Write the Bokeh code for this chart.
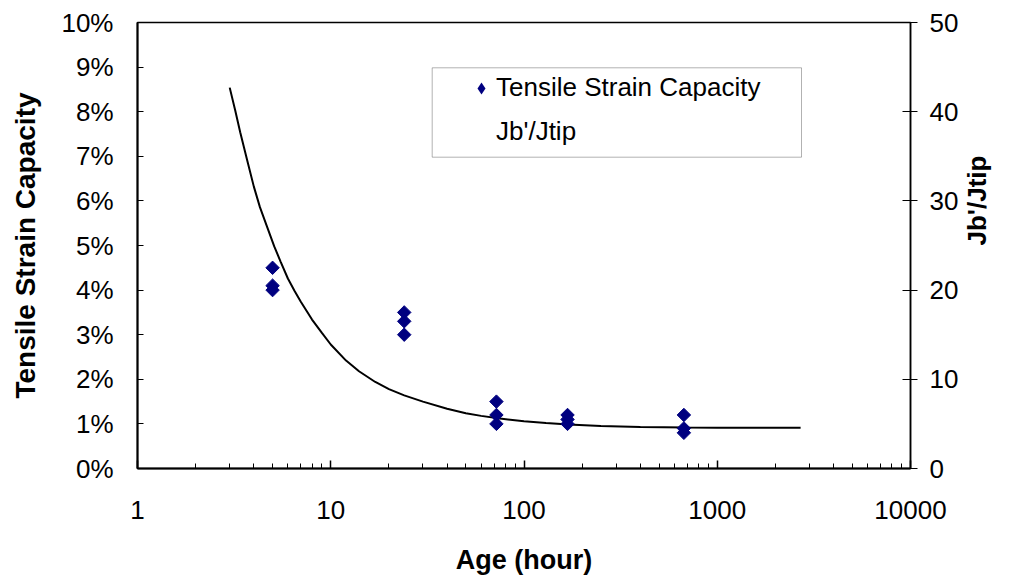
import math
from bokeh.plotting import figure
from bokeh.models import (Range1d, LinearAxis, SingleIntervalTicker, NumeralTickFormatter,
                          LogTicker, Legend, LegendItem, BoxAnnotation)
from bokeh.embed import file_html
from bokeh.resources import INLINE

# ---- data ----
age_points = [5, 5, 5, 24, 24, 24, 72, 72, 72, 168, 168, 168, 672, 672, 672]
tensile_strain = [0.045, 0.041, 0.040, 0.035, 0.033, 0.030, 0.015, 0.012, 0.010,
                  0.012, 0.011, 0.010, 0.012, 0.009, 0.008]

age_curve = [3.0, 3.2, 3.4, 3.7, 4.0, 4.3, 4.7, 5.1, 5.5, 6.0, 6.5, 7.0, 8.0, 9.0, 10,
             12, 14, 17, 20, 24, 30, 40, 50, 60, 75, 100, 130, 170, 250, 400, 700,
             1000, 1700, 2700]
jb_jtip = [42.7, 40.2, 37.7, 34.5, 31.6, 29.3, 27.0, 24.9, 23.2, 21.3, 19.9, 18.7,
           16.7, 15.2, 13.9, 12.1, 10.9, 9.7, 8.9, 8.2, 7.5, 6.7, 6.2, 5.9, 5.6, 5.3,
           5.1, 4.93, 4.77, 4.66, 4.6, 4.58, 4.57, 4.56]

x_ticks = [1, 10, 100, 1000, 10000]

FONT = "Liberation Sans"

p = figure(width=1010, height=580, x_axis_type="log",
           x_range=Range1d(1, 10000), y_range=Range1d(0, 0.10),
           output_backend="svg", toolbar_location=None,
           min_border_left=137, min_border_right=99, min_border_top=22, min_border_bottom=112)
p.extra_y_ranges = {"jb": Range1d(0, 50)}

p.xgrid.visible = False
p.ygrid.visible = False
p.background_fill_color = "white"
p.border_fill_color = "white"
p.outline_line_color = "black"
p.outline_line_width = 1.5

# x axis
xa = p.xaxis[0]
xa.ticker = LogTicker(num_minor_ticks=10, desired_num_ticks=5)
xa.formatter = NumeralTickFormatter(format="0")
xa.axis_line_width = 2
xa.major_tick_in = 8
xa.major_tick_out = 0
xa.minor_tick_in = 5
xa.minor_tick_out = 0
xa.major_tick_line_width = 1.5
xa.major_label_standoff = 32
xa.major_label_text_font = FONT
xa.major_label_text_font_size = "26px"
xa.major_label_text_color = "black"
xa.axis_label = "Age (hour)"
xa.axis_label_text_font = FONT
xa.axis_label_text_font_size = "27px"
xa.axis_label_text_font_style = "bold"
xa.axis_label_text_color = "black"
xa.axis_label_standoff = 23

# left axis
ya = p.yaxis[0]
ya.ticker = SingleIntervalTicker(interval=0.01)
ya.formatter = NumeralTickFormatter(format="0%")
ya.axis_line_width = 2
ya.major_tick_in = 6
ya.major_tick_out = 0
ya.minor_tick_line_color = None
ya.major_label_standoff = 20
ya.major_label_text_font = FONT
ya.major_label_text_font_size = "26px"
ya.major_label_text_color = "black"
ya.axis_label = "Tensile Strain Capacity"
ya.axis_label_text_font = FONT
ya.axis_label_text_font_size = "28px"
ya.axis_label_text_font_style = "bold"
ya.axis_label_text_color = "black"
ya.axis_label_standoff = 17

# right axis
ra = LinearAxis(y_range_name="jb", ticker=SingleIntervalTicker(interval=10))
ra.axis_line_width = 1.5
ra.major_tick_in = 8
ra.major_tick_out = 7
ra.minor_tick_line_color = None
ra.major_label_standoff = 12
ra.major_label_text_font = FONT
ra.major_label_text_font_size = "26px"
ra.major_label_text_color = "black"
ra.axis_label = "Jb'/Jtip"
ra.axis_label_orientation = -1.5 * math.pi
ra.axis_label_text_font = FONT
ra.axis_label_text_font_size = "26px"
ra.axis_label_text_font_style = "bold"
ra.axis_label_text_color = "black"
ra.axis_label_standoff = 16
p.add_layout(ra, "right")

# legend frame
box = BoxAnnotation(left=294.7, right=664, top=400.7, bottom=311.3,
                    left_units="screen", right_units="screen",
                    top_units="screen", bottom_units="screen",
                    fill_color="white", fill_alpha=1.0,
                    line_color="black", line_width=1, level="underlay")
p.add_layout(box)

# curve
curve = p.line(age_curve, jb_jtip, y_range_name="jb", line_color="black", line_width=2)

# points
pts = p.scatter(age_points, tensile_strain, marker="square", angle=math.pi / 4,
                size=9.5, fill_color="#000080", line_color="#000080")

# legend-only renderers
legend_diamond = p.scatter(age_points, tensile_strain, marker="diamond", size=0,
                           fill_color="#000080", line_color="#000080", line_alpha=0)
legend_blank = p.line(age_curve, jb_jtip, y_range_name="jb", line_alpha=0)

legend = Legend(items=[LegendItem(label="Tensile Strain Capacity", renderers=[legend_diamond]),
                       LegendItem(label="Jb'/Jtip", renderers=[legend_blank])],
                location=(324, 316), orientation="vertical",
                label_text_font=FONT, label_text_font_size="26px", label_text_color="black",
                glyph_width=30, glyph_height=30, label_height=30, label_standoff=0,
                spacing=13, padding=5, margin=0,
                border_line_alpha=0, background_fill_alpha=0)
p.add_layout(legend)

open("out.html", "w").write(file_html(p, INLINE))
